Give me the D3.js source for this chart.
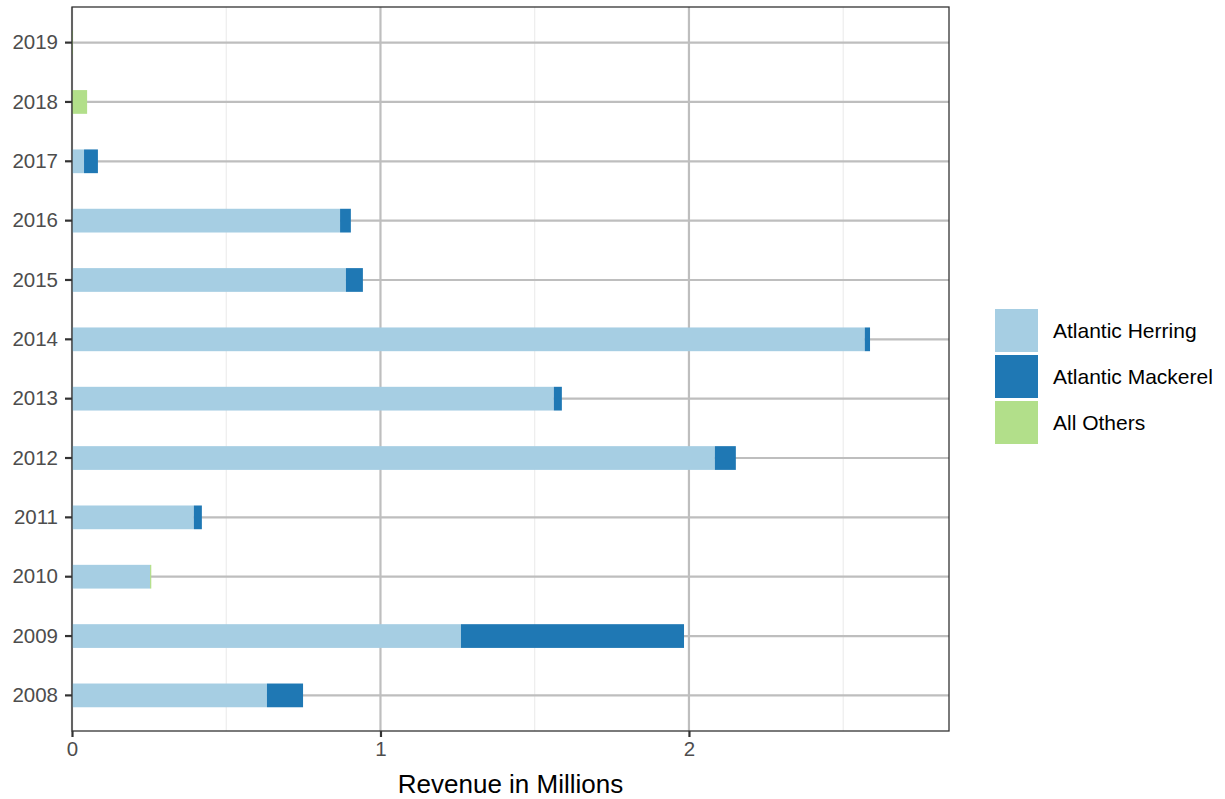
<!DOCTYPE html>
<html><head><meta charset="utf-8">
<script src="https://cdn.jsdelivr.net/npm/d3@7"></script>
<style>body{margin:0;background:#fff;} svg{display:block;font-family:"Liberation Sans",Arial,sans-serif;}</style>
</head><body><svg id="c" width="1225" height="799"></svg>
<script>
const years = ["2008","2009","2010","2011","2012","2013","2014","2015","2016","2017","2018","2019"];
const series = ["Atlantic Herring","Atlantic Mackerel","All Others"];
const herring  = [0.632,1.261,0.253,0.395,2.084,1.562,2.570,0.888,0.869,0.039,0,0];
const mackerel = [0.117,0.723,0,0.026,0.068,0.026,0.017,0.055,0.035,0.045,0,0];
const others   = [0,0,0.004,0,0,0,0,0,0,0,0.049,0.003];
const xTicks = [0,1,2];
const xMinor = [0.5,1.5,2.5];
const colors = ["#A6CEE3","#1F78B4","#B2DF8A"];

const svg = d3.select("#c");
const L=72, R=949, T=7, B=731;
const x = d3.scaleLinear().domain([0,2.843]).range([L,R]);
const y = d3.scaleBand().domain(years.slice().reverse()).range([T,B]).paddingOuter(0.1).paddingInner(0);
const step = y.step();
const yc = d => y(d)+step/2;
const barH = step*0.4;

const g = svg.append("g");
g.selectAll(".mn").data(xMinor).join("line").attr("x1",d=>x(d)).attr("x2",d=>x(d)).attr("y1",T).attr("y2",B).attr("stroke","#ebebeb").attr("stroke-width",1.1);
g.selectAll(".mj").data(xTicks).join("line").attr("x1",d=>x(d)).attr("x2",d=>x(d)).attr("y1",T).attr("y2",B).attr("stroke","#bebebe").attr("stroke-width",2.2);
g.selectAll(".hy").data(years).join("line").attr("x1",L).attr("x2",R).attr("y1",d=>yc(d)).attr("y2",d=>yc(d)).attr("stroke","#bebebe").attr("stroke-width",2.2);

const vals=[herring,mackerel,others];
const stacked = years.map((yr,i)=>{let c=0;return vals.map((v,s)=>{const o={yr,s,x0:c,x1:c+v[i]};c+=v[i];return o;});}).flat().filter(d=>d.x1>d.x0);
g.selectAll(".bar").data(stacked).join("rect")
 .attr("x",d=>x(d.x0)).attr("width",d=>Math.max(0,x(d.x1)-x(d.x0)))
 .attr("y",d=>yc(d.yr)-barH/2).attr("height",barH).attr("fill",d=>colors[d.s]);

svg.append("rect").attr("x",L).attr("y",T).attr("width",R-L).attr("height",B-T).attr("fill","none").attr("stroke","#333").attr("stroke-width",1.3);

const xa = svg.append("g").attr("transform",`translate(0,${B})`).call(d3.axisBottom(x).tickValues(xTicks).tickFormat(d3.format("d")).tickSize(6).tickPadding(4));
const ya = svg.append("g").attr("transform",`translate(${L},0)`).call(d3.axisLeft(y).tickSize(7).tickPadding(7));
[xa,ya].forEach(a=>{a.attr("font-size",null).attr("font-family",null);a.select(".domain").remove();a.selectAll(".tick line").attr("stroke","#333").attr("stroke-width",2.2);a.selectAll("text").attr("fill","#4d4d4d").style("font-size","20.5px");});

svg.append("text").attr("x",(L+R)/2).attr("y",793).attr("text-anchor","middle").style("font-size","26px").attr("fill","#000").text("Revenue in Millions");

const lg = svg.append("g");
series.forEach((s,i)=>{
  const yy = 309 + i*46;
  lg.append("rect").attr("x",995).attr("y",yy).attr("width",43).attr("height",43).attr("fill",colors[i]);
  lg.append("text").attr("x",1053).attr("y",yy+21.5).attr("dy","0.35em").style("font-size","21px").attr("fill","#000").text(s);
});
</script></body></html>
